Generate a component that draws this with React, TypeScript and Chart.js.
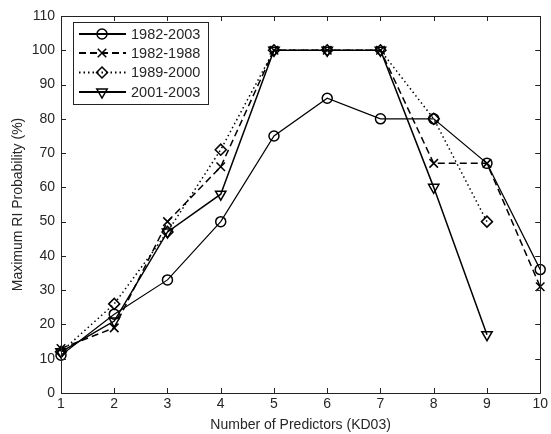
import React, { useEffect, useRef } from "react";
import { Chart, registerables } from "chart.js";

Chart.register(...registerables);

const predictors = [1, 2, 3, 4, 5, 6, 7, 8, 9, 10];
const s19822003 = [11, 23, 33, 50, 75, 86, 80, 80, 67, 36];
const s19821988 = [13, 19, 50, 66, 100, 100, 100, 67, 67, 31];
const s19892000 = [12, 26, 47, 71, 100, 100, 100, 80, 50, null];
const s20012003 = [12, 21, 47, 58, 100, 100, 100, 60, 17, null];
const seriesLabels = ["1982-2003", "1982-1988", "1989-2000", "2001-2003"];
const yTicks = [0, 10, 20, 30, 40, 50, 60, 70, 80, 90, 100, 110];

const FONT = "Arial, 'Liberation Sans', sans-serif";
const TXT = "#262626";

const toXY = (arr: (number | null)[]) =>
  predictors.map((x, i) => ({ x, y: arr[i] }));

function drawMarker(ctx: CanvasRenderingContext2D, style: string, x: number, y: number, r: number) {
  ctx.beginPath();
  if (style === "circle") {
    ctx.arc(x, y, r, 0, Math.PI * 2);
  } else if (style === "crossRot") {
    const d = r * 0.7071;
    ctx.moveTo(x - d, y - d); ctx.lineTo(x + d, y + d);
    ctx.moveTo(x + d, y - d); ctx.lineTo(x - d, y + d);
  } else if (style === "rectRot") {
    ctx.moveTo(x, y - r); ctx.lineTo(x + r, y); ctx.lineTo(x, y + r); ctx.lineTo(x - r, y); ctx.closePath();
  } else {
    const h = r * 0.866;
    ctx.moveTo(x - h, y - r * 0.5); ctx.lineTo(x + h, y - r * 0.5); ctx.lineTo(x, y + r); ctx.closePath();
  }
  ctx.stroke();
}

const frameTicksPlugin = {
  id: "frameTicks",
  afterDatasetsDraw(chart: any) {
    const { ctx, chartArea: a, scales } = chart;
    ctx.save();
    ctx.strokeStyle = "#222";
    ctx.lineWidth = 1;
    ctx.beginPath();
    ctx.rect(Math.round(a.left) + 0.5, Math.round(a.top) + 0.5, Math.round(a.right - a.left), Math.round(a.bottom - a.top));
    ctx.stroke();
    const L = 5;
    ctx.beginPath();
    predictors.forEach((v) => {
      const x = Math.round(scales.x.getPixelForValue(v)) + 0.5;
      ctx.moveTo(x, a.bottom);
      ctx.lineTo(x, a.bottom - L);
      ctx.moveTo(x, a.top);
      ctx.lineTo(x, a.top + L);
    });
    yTicks.forEach((v) => {
      const y = Math.round(scales.y.getPixelForValue(v)) + 0.5;
      ctx.moveTo(a.left, y);
      ctx.lineTo(a.left + L, y);
      ctx.moveTo(a.right, y);
      ctx.lineTo(a.right - L, y);
    });
    ctx.stroke();

    // legend
    const bx = 73.5, by = 22.5, bw = 135, bh = 82;
    ctx.fillStyle = "#fff";
    ctx.fillRect(bx, by, bw, bh);
    ctx.strokeStyle = "#222";
    ctx.strokeRect(bx, by, bw, bh);
    const ys = [34, 53, 72.5, 92];
    chart.data.datasets.forEach((ds: any, i: number) => {
      const y = ys[i];
      ctx.save();
      ctx.strokeStyle = "#000";
      ctx.lineWidth = 2;
      ctx.setLineDash(ds.borderDash || []);
      ctx.beginPath();
      ctx.moveTo(79, y);
      ctx.lineTo(126, y);
      ctx.stroke();
      ctx.restore();
      ctx.save();
      ctx.strokeStyle = "#000";
      ctx.lineWidth = 1.5;
      drawMarker(ctx, ds.pointStyle === "triangle" ? "triDown" : ds.pointStyle, 102, y, ds.pointRadius);
      ctx.restore();
      ctx.fillStyle = TXT;
      ctx.font = `14.5px ${FONT}`;
      ctx.textBaseline = "middle";
      ctx.textAlign = "left";
      ctx.fillText(ds.label, 131, y + 0.5);
    });
    ctx.restore();
  },
};

export default function App() {
  const ref = useRef<HTMLCanvasElement>(null);
  useEffect(() => {
    const common = {
      borderColor: "#000",
      pointBorderColor: "#000",
      pointBackgroundColor: "rgba(0,0,0,0)",
      borderWidth: 1.5,
      pointBorderWidth: 1.5,
      pointRadius: 5,
      spanGaps: false,
      fill: false,
      tension: 0,
      clip: false,
    };
    const chart = new Chart(ref.current!, {
      type: "line",
      data: {
        datasets: [
          { ...common, label: seriesLabels[0], data: toXY(s19822003), pointStyle: "circle", borderWidth: 1.2 },
          { ...common, label: seriesLabels[1], data: toXY(s19821988), pointStyle: "crossRot", pointRadius: 6, borderDash: [7, 4] },
          { ...common, label: seriesLabels[2], data: toXY(s19892000), pointStyle: "rectRot", pointRadius: 5.5, borderDash: [1.5, 3] },
          { ...common, label: seriesLabels[3], data: toXY(s20012003), pointStyle: "triangle", pointRotation: 180, pointRadius: 6 },
        ] as any,
      },
      options: {
        animation: false,
        responsive: false,
        layout: { padding: { left: 0, right: 8, top: 16, bottom: 0 } },
        plugins: { legend: { display: false }, tooltip: { enabled: false } },
        scales: {
          x: {
            type: "linear",
            min: 1,
            max: 10,
            afterFit: (s: any) => { s.height = 41; },
            ticks: { stepSize: 1, color: TXT, font: { size: 14, family: FONT }, padding: 3 },
            grid: { display: false, drawTicks: false },
            border: { display: false },
            title: { display: true, text: "Number of Predictors (KD03)", color: TXT, font: { size: 14, family: FONT }, padding: { top: 1, bottom: 0 } },
          },
          y: {
            type: "linear",
            min: 0,
            max: 110,
            afterFit: (s: any) => { s.width = 61; },
            ticks: { stepSize: 10, color: TXT, font: { size: 14, family: FONT }, padding: 6 },
            grid: { display: false, drawTicks: false },
            border: { display: false },
            title: { display: true, text: "Maximum RI Probability (%)", color: TXT, font: { size: 14, family: FONT }, padding: { top: 10, bottom: 0 } },
          },
        },
      } as any,
      plugins: [frameTicksPlugin],
    });
    return () => chart.destroy();
  }, []);
  return (
    <div style={{ position: "fixed", left: 0, top: 0, width: 551, height: 434, background: "#fff" }}>
      <canvas ref={ref} width={551} height={434} style={{ width: 551, height: 434 }} />
    </div>
  );
}
